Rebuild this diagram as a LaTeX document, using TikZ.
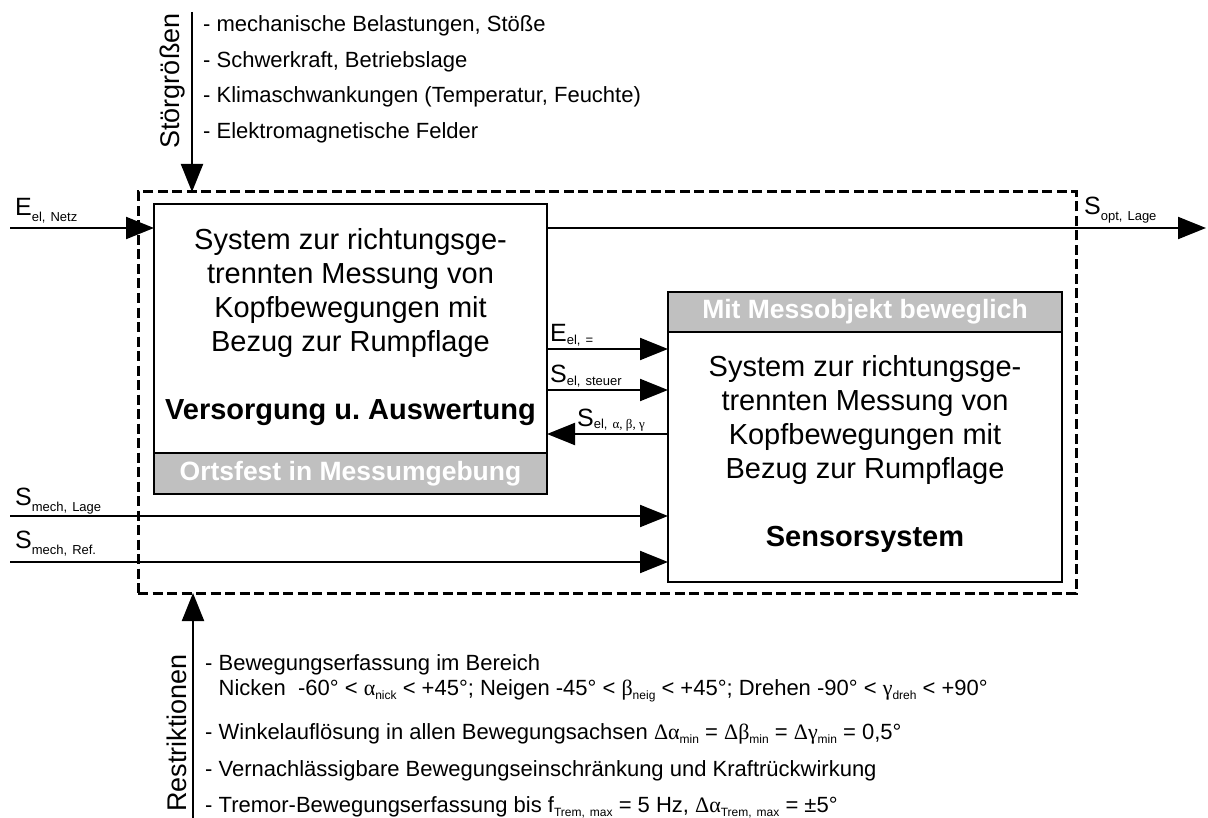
\documentclass[tikz,border=0pt]{standalone}
\usepackage{fontspec}
\setmainfont{Liberation Sans}
\newfontfamily\grk{Liberation Serif}
\usetikzlibrary{arrows.meta}
\definecolor{bandgray}{HTML}{C0C0C0}
\newcommand{\sbx}[2][6pt]{\raisebox{-#1}{\fontsize{13}{13}\selectfont #2}}
\newcommand{\lsub}[1]{\raisebox{-4pt}{\fontsize{12}{12}\selectfont #1}}
\begin{document}
\begin{tikzpicture}[x=1pt,y=-1pt,
  box/.style={draw, line width=2.5pt, inner sep=0pt, outer sep=0pt, anchor=north west},
  band/.style={box, fill=bandgray, text=white, font=\bfseries\fontsize{26.5}{26.5}\selectfont},
  sysbox/.style={draw, line width=3pt, dash pattern=on 10pt off 4.5pt, inner sep=0pt, outer sep=0pt, anchor=north west},
  arr/.style={line width=2pt, -{Triangle[length=28pt,width=22pt]}},
  lab/.style={anchor=base west, inner sep=0pt, font=\fontsize{25}{25}\selectfont},
  lst/.style={anchor=base west, inner sep=0pt, font=\fontsize{22}{22}\selectfont},
  boxtxt/.style={anchor=base, inner sep=0pt, font=\fontsize{29}{34}\selectfont},
  vert/.style={rotate=90, anchor=base, inner sep=0pt, font=\fontsize{27}{27}\selectfont}]
\useasboundingbox (0,0) rectangle (1208,818);

% system boundary
\node[sysbox, minimum width=938pt, minimum height=401pt] (sys) at (138,192) {};

% left box
\node[box, minimum width=393pt, minimum height=290pt] (vb) at (154,204) {};
\node[band, minimum width=393pt, minimum height=41pt] (vbb) at (154,453) {Ortsfest in Messumgebung};
\node[boxtxt] (vbt) at (350.5,250) {\begin{tabular}[t]{@{}c@{}}System zur richtungsge-\\trennten Messung von\\Kopfbewegungen mit\\Bezug zur Rumpflage\\ \\ \textbf{Versorgung u.\ Auswertung}\end{tabular}};

% right box
\node[box, minimum width=394pt, minimum height=290pt] (sb) at (668,292) {};
\node[band, minimum width=394pt, minimum height=40pt] (sbb) at (668,292) {Mit Messobjekt beweglich};
\node[boxtxt] (sbt) at (865,377) {\begin{tabular}[t]{@{}c@{}}System zur richtungsge-\\trennten Messung von\\Kopfbewegungen mit\\Bezug zur Rumpflage\\ \\ \textbf{Sensorsystem}\end{tabular}};

% free ends
\coordinate (ein) at (10,228);
\coordinate (aus) at (1206,228);
\coordinate (y1) at (0,349);
\coordinate (y2) at (0,390);
\coordinate (y3) at (0,434);
\coordinate (m1) at (10,516);
\coordinate (m2) at (10,562);
\coordinate (st) at (192,12);
\coordinate (re) at (193,818);

% connectors
\draw[arr] (ein) -- (ein -| vb.west);
\draw[arr] (vb.east |- aus) -- (aus);
\draw[arr] (vb.east |- y1) -- (sb.west |- y1);
\draw[arr] (vb.east |- y2) -- (sb.west |- y2);
\draw[arr] (sb.west |- y3) -- (vb.east |- y3);
\draw[arr] (m1) -- (m1 -| sb.west);
\draw[arr] (m2) -- (m2 -| sb.west);
\draw[arr] (st) -- (st |- sys.north);
\draw[arr] (re) -- (re |- sys.south);

% connector labels
\node[lab] (lenetz) at (15,216) {E\sbx{el,\hspace{5pt}Netz}};
\node[lab] (lsopt) at (1084,215) {S\sbx{opt,\hspace{5pt}Lage}};
\node[lab] (leel) at (550,342) {E\sbx[2pt]{el,\hspace{5pt}=}};
\node[lab] (lsst) at (550,383) {S\sbx[2pt]{el,\hspace{5pt}steuer}};
\node[lab] (lsabg) at (577,426) {S\sbx[2pt]{el,\hspace{5pt}{\grk α, β, γ}}};
\node[lab] (lsml) at (15,505) {S\sbx{mech,\hspace{5pt}Lage}};
\node[lab] (lsmr) at (15,548) {S\sbx{mech,\hspace{5pt}Ref.}};

% disturbances
\node[vert] (stg) at (179,81) {Störgrößen};
\node[lst] (d1) at (203,32) {- mechanische Belastungen, Stöße};
\node[lst] (d2) at (203,68) {- Schwerkraft, Betriebslage};
\node[lst] (d3) at (203,103) {- Klimaschwankungen (Temperatur, Feuchte)};
\node[lst] (d4) at (203,139) {- Elektromagnetische Felder};

% restrictions
\node[vert] (rst) at (186,733) {Restriktionen};
\node[lst] (r1) at (205,670) {- Bewegungserfassung im Bereich};
\node[lst] (r2) at (205,695) {\phantom{- }Nicken\ \ -60° < {\grk α}\lsub{nick} < +45°; Neigen -45° < {\grk β}\lsub{neig} < +45°; Drehen -90° < {\grk γ}\lsub{dreh} < +90°};
\node[lst] (r3) at (205,739) {- Winkelauflösung in allen Bewegungsachsen {\grk Δα}\lsub{min} = {\grk Δβ}\lsub{min} = {\grk Δγ}\lsub{min} = 0,5°};
\node[lst] (r4) at (205,776) {- Vernachlässigbare Bewegungseinschränkung und Kraftrückwirkung};
\node[lst] (r5) at (205,812) {- Tremor-Bewegungserfassung bis f\lsub{Trem,\hspace{5pt}max} = 5 Hz, {\grk Δα}\lsub{Trem,\hspace{5pt}max} = ±5°};
\end{tikzpicture}
\end{document}
